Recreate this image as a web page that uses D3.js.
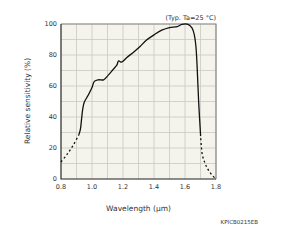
<!DOCTYPE html>
<html>
<head>
<meta charset="utf-8">
<script src="https://cdn.jsdelivr.net/npm/d3@7"></script>
<style>
  body { margin: 0; background: #fff; }
  text { font-family: "DejaVu Sans", Verdana, sans-serif; fill: #333; }
</style>
</head>
<body>
<svg id="chart" width="300" height="250"></svg>
<script>
// measured curve, wavelength (um) vs relative sensitivity (%)
const dashLow = [[0.80, 11], [0.84, 16], [0.88, 22], [0.915, 28.5]];
const solid = [
  [0.915, 28.5], [0.925, 32], [0.932, 38], [0.94, 45], [0.95, 49.5], [0.975, 54],
  [1.0, 59], [1.015, 63], [1.04, 64], [1.075, 64], [1.105, 67], [1.135, 70.5],
  [1.16, 73.5], [1.172, 76.2], [1.19, 75.4], [1.225, 78.4], [1.27, 82], [1.31, 85.5],
  [1.35, 89.5], [1.40, 93], [1.45, 96], [1.50, 97.7], [1.55, 98.3], [1.58, 99.8],
  [1.62, 99.8], [1.645, 97.5], [1.66, 93], [1.67, 86], [1.678, 73], [1.688, 50], [1.70, 29]
];
const dashHigh = [[1.70, 29], [1.712, 15.5], [1.73, 10], [1.745, 6.8], [1.77, 3], [1.80, 0]];

const xTicks = [0.8, 1.0, 1.2, 1.4, 1.6, 1.8];
const yTicks = [0, 20, 40, 60, 80, 100];
const xGrid = d3.range(0.8, 1.801, 0.1);
const yGrid = d3.range(0, 101, 10);

const svg = d3.select("#chart");
const mLeft = 61, mRight = 216, mTop = 24, mBottom = 179;

const x = d3.scaleLinear().domain([0.8, 1.8]).range([mLeft, mRight]);
const y = d3.scaleLinear().domain([0, 100]).range([mBottom, mTop]);

svg.append("rect")
  .attr("x", mLeft).attr("y", mTop)
  .attr("width", mRight - mLeft).attr("height", mBottom - mTop)
  .attr("fill", "#f5f4ec");

// grid
svg.append("g").selectAll("line").data(xGrid).join("line")
  .attr("x1", d => x(d)).attr("x2", d => x(d))
  .attr("y1", mTop).attr("y2", mBottom)
  .attr("stroke", "#c9c9c2").attr("stroke-width", 0.8);
svg.append("g").selectAll("line").data(yGrid).join("line")
  .attr("y1", d => y(d)).attr("y2", d => y(d))
  .attr("x1", mLeft).attr("x2", mRight)
  .attr("stroke", "#c9c9c2").attr("stroke-width", 0.8);

// frame: top/right gray, left/bottom dark
svg.append("path")
  .attr("d", `M${mLeft},${mTop}H${mRight}V${mBottom}`)
  .attr("fill", "none").attr("stroke", "#8a8a86").attr("stroke-width", 1.2);
svg.append("path")
  .attr("d", `M${mLeft},${mTop}V${mBottom}H${mRight}`)
  .attr("fill", "none").attr("stroke", "#333").attr("stroke-width", 1.2);

const lineRaw = d3.line().x(d => x(d[0])).y(d => y(d[1])).curve(d3.curveCatmullRom);

svg.append("path").attr("d", lineRaw(solid))
  .attr("fill", "none").attr("stroke", "#111").attr("stroke-width", 1.3);
svg.append("path").attr("d", lineRaw(dashLow))
  .attr("fill", "none").attr("stroke", "#111").attr("stroke-width", 1.3)
  .attr("stroke-dasharray", "2,2.5");
svg.append("path").attr("d", lineRaw(dashHigh))
  .attr("fill", "none").attr("stroke", "#111").attr("stroke-width", 1.3)
  .attr("stroke-dasharray", "2,2.5");

// tick labels
svg.append("g").selectAll("text").data(xTicks).join("text")
  .attr("x", d => x(d)).attr("y", 189)
  .attr("text-anchor", "middle").attr("font-size", 6.5)
  .text(d => d.toFixed(1));
svg.append("g").selectAll("text").data(yTicks).join("text")
  .attr("x", 57).attr("y", d => y(d) + 2.3)
  .attr("text-anchor", "end").attr("font-size", 6.5)
  .text(d => d);

svg.append("text")
  .attr("x", (mLeft + mRight) / 2).attr("y", 211)
  .attr("text-anchor", "middle").attr("font-size", 7.5)
  .text("Wavelength (μm)");

svg.append("text")
  .attr("transform", "translate(30,101) rotate(-90)")
  .attr("text-anchor", "middle").attr("font-size", 7.5)
  .text("Relative sensitivity (%)");

svg.append("text")
  .attr("x", mRight).attr("y", 20)
  .attr("text-anchor", "end").attr("font-size", 6.5)
  .text("(Typ. Ta=25 °C)");

svg.append("text")
  .attr("x", 258).attr("y", 224)
  .attr("text-anchor", "end").attr("font-size", 5.5)
  .text("KPICB0215EB");
</script>
</body>
</html>
